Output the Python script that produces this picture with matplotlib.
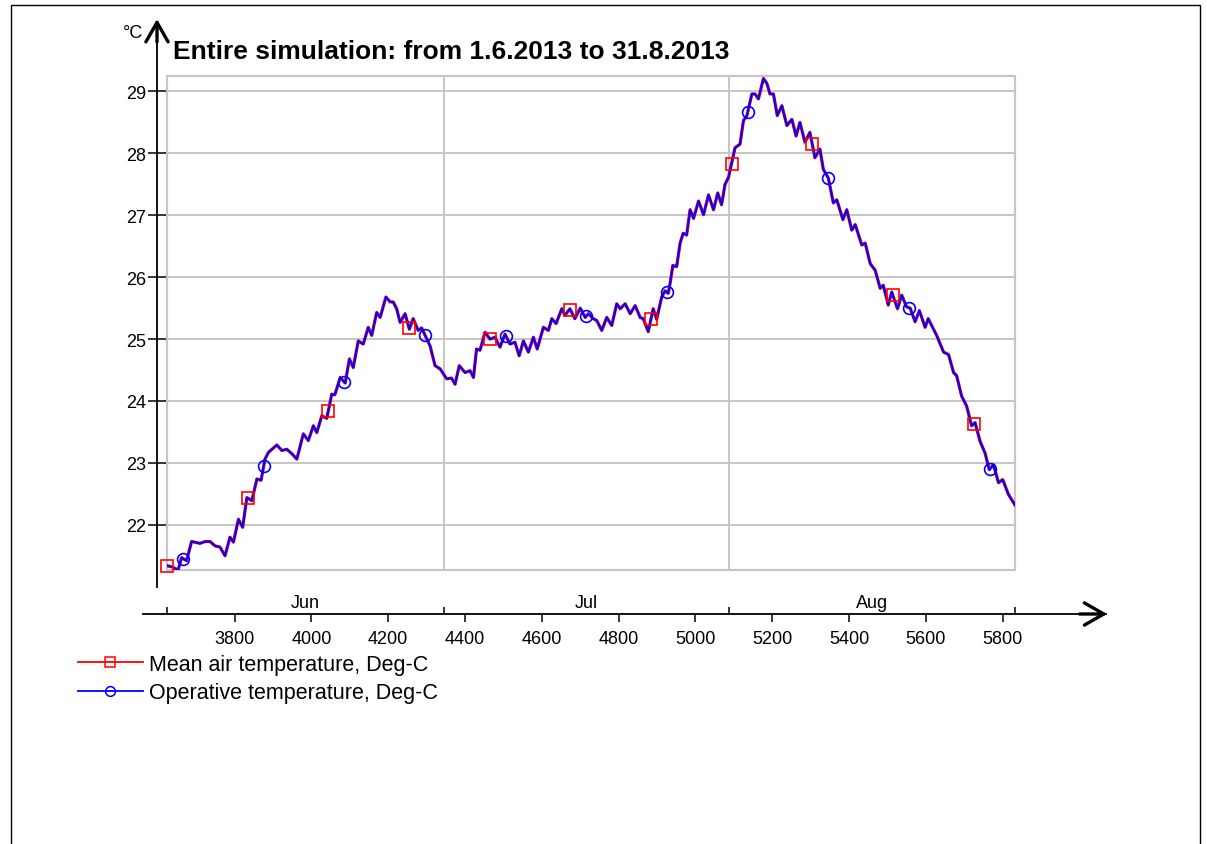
import numpy as np
import matplotlib
matplotlib.use("Agg")
import matplotlib.pyplot as plt
from matplotlib.patches import Rectangle
from matplotlib.lines import Line2D

plt.rcParams['font.family'] = ['Liberation Sans', 'DejaVu Sans']

# hour of year (1.6.2013 = hour 3624) and temperature
hours = [3624, 3637, 3653, 3662, 3675, 3688, 3710, 3723, 3736, 3749,
         3762, 3775, 3788, 3797, 3810, 3821, 3832, 3845, 3858, 3869,
         3879, 3888, 3910, 3923, 3936, 3949, 3962, 3979, 3992, 4005,
         4014, 4027, 4040, 4053, 4061, 4075, 4088, 4099, 4109, 4122,
         4135, 4148, 4157, 4170, 4179, 4194, 4205, 4213, 4222, 4231,
         4244, 4255, 4265, 4278, 4287, 4296, 4309, 4322, 4335, 4352,
         4365, 4374, 4385, 4400, 4413, 4422, 4430, 4439, 4452, 4465,
         4478, 4491, 4504, 4517, 4530, 4541, 4552, 4565, 4578, 4588,
         4604, 4617, 4626, 4637, 4652, 4660, 4673, 4686, 4700, 4713,
         4721, 4734, 4743, 4756, 4769, 4782, 4795, 4804, 4817, 4830,
         4843, 4856, 4864, 4877, 4890, 4899, 4912, 4921, 4929, 4934,
         4941, 4951, 4960, 4968, 4977, 4986, 4995, 5008, 5021, 5034,
         5047, 5058, 5068, 5077, 5086, 5103, 5116, 5125, 5134, 5147,
         5155, 5164, 5177, 5186, 5194, 5203, 5213, 5225, 5238, 5251,
         5262, 5272, 5285, 5298, 5311, 5324, 5333, 5346, 5359, 5368,
         5384, 5394, 5407, 5416, 5433, 5442, 5455, 5468, 5481, 5489,
         5502, 5511, 5526, 5537, 5550, 5559, 5572, 5583, 5598, 5606,
         5628, 5646, 5659, 5672, 5680, 5693, 5706, 5719, 5728, 5741,
         5754, 5765, 5776, 5789, 5800, 5815, 5832]

mean_air_temp = [21.34, 21.32, 21.27, 21.47, 21.42, 21.73, 21.70, 21.73, 21.73, 21.66,
                 21.64, 21.50, 21.80, 21.72, 22.09, 21.96, 22.44, 22.39, 22.74, 22.72,
                 23.06, 23.17, 23.29, 23.20, 23.22, 23.15, 23.06, 23.47, 23.36, 23.60,
                 23.49, 23.76, 23.72, 24.11, 24.10, 24.38, 24.29, 24.68, 24.54, 24.97,
                 24.92, 25.19, 25.06, 25.43, 25.35, 25.68, 25.60, 25.60, 25.49, 25.27,
                 25.41, 25.16, 25.33, 25.14, 25.18, 25.06, 24.89, 24.57, 24.52, 24.36,
                 24.37, 24.27, 24.57, 24.46, 24.49, 24.38, 24.84, 24.82, 25.11, 25.00,
                 25.03, 24.87, 25.08, 24.92, 24.95, 24.73, 24.97, 24.79, 25.03, 24.84,
                 25.19, 25.14, 25.33, 25.25, 25.49, 25.38, 25.49, 25.33, 25.50, 25.35,
                 25.41, 25.33, 25.30, 25.14, 25.35, 25.22, 25.57, 25.49, 25.57, 25.41,
                 25.54, 25.35, 25.33, 25.12, 25.49, 25.32, 25.68, 25.78, 25.74, 25.90,
                 26.19, 26.17, 26.55, 26.71, 26.68, 27.09, 26.95, 27.23, 27.01, 27.33,
                 27.09, 27.36, 27.17, 27.50, 27.61, 28.09, 28.15, 28.53, 28.61, 28.96,
                 28.96, 28.88, 29.21, 29.13, 28.96, 28.96, 28.61, 28.77, 28.45, 28.55,
                 28.28, 28.50, 28.18, 28.34, 27.93, 28.07, 27.74, 27.60, 27.20, 27.25,
                 26.93, 27.09, 26.76, 26.85, 26.52, 26.55, 26.22, 26.11, 25.82, 25.87,
                 25.55, 25.76, 25.49, 25.71, 25.52, 25.50, 25.28, 25.46, 25.19, 25.33,
                 25.06, 24.79, 24.75, 24.46, 24.41, 24.08, 23.92, 23.60, 23.65, 23.35,
                 23.16, 22.89, 22.97, 22.68, 22.73, 22.49, 22.32]
# the two curves lie on top of each other at this scale
operative_temp = mean_air_temp

month_edges = [3624, 4344, 5088, 5832]
month_names = ['Jun', 'Jul', 'Aug']
x_ticks = list(range(3800, 5801, 200))
y_ticks = list(range(22, 30))

title = 'Entire simulation: from 1.6.2013 to 31.8.2013'
labels = ['Mean air temperature, Deg-C', 'Operative temperature, Deg-C']

W, H = 1207, 845
GRID = '#c6c6c6'

fig = plt.figure(figsize=(W / 100, H / 100), dpi=100)
ax = fig.add_axes([167 / W, 1 - 571 / H, 848 / W, 494 / H])
ax.set_xlim(month_edges[0], month_edges[-1])
ax.set_ylim(21.27, 29.25)

for y in y_ticks:
    ax.axhline(y, color=GRID, lw=1.4, zorder=1)
for x in month_edges[1:-1]:
    ax.axvline(x, color=GRID, lw=1.4, zorder=1)
ax.add_patch(Rectangle((0, 0), 1, 1, transform=ax.transAxes, fill=False,
                       ec=GRID, lw=1.6, clip_on=False, zorder=1))

ax.plot(hours, mean_air_temp, color='red', lw=2.3, zorder=3)
ax.plot(hours, operative_temp, color='blue', lw=1.5, zorder=4)

# markers every 210 h, offset between the two series
red_mk = np.arange(month_edges[0], month_edges[-1], 210)
blue_mk = np.arange(month_edges[0] + 42, month_edges[-1], 210)
ax.plot(red_mk, np.interp(red_mk, hours, mean_air_temp), ls='none',
        marker='s', ms=8.5, mfc='none', mec='red', mew=1.2, zorder=5, clip_on=False)
ax.plot(blue_mk, np.interp(blue_mk, hours, operative_temp), ls='none',
        marker='o', ms=8.5, mfc='none', mec='blue', mew=1.2, zorder=5, clip_on=False)

# black arrow axes drawn apart from the grey frame
for side in ['top', 'right']:
    ax.spines[side].set_visible(False)
ax.spines['left'].set_position(('outward', 7.2))
ax.spines['bottom'].set_position(('outward', 31.7))
for side in ['left', 'bottom']:
    ax.spines[side].set_color('black')
    ax.spines[side].set_linewidth(1.3)
ax.spines['left'].set_bounds(21.0, 30.1)
ax.spines['bottom'].set_bounds(3562, 6070)

ax.set_yticks(y_ticks)
ax.set_xticks(x_ticks)
ax.set_xticks(month_edges, minor=True)
ax.tick_params(axis='y', direction='inout', length=13, width=1.1, pad=1.5,
               labelsize=13)
ax.tick_params(axis='x', which='major', direction='out', length=6, width=1.1,
               pad=5.5, labelsize=13)
ax.tick_params(axis='x', which='minor', direction='in', length=5, width=1.1)

for name, a, b in zip(month_names, month_edges[:-1], month_edges[1:]):
    ax.text((a + b) / 2, -33 / 494, name, transform=ax.get_xaxis_transform(),
            ha='center', va='center', fontsize=13)

arrow = dict(arrowstyle='->,head_length=1.4,head_width=0.8', lw=2.4,
             color='black', shrinkA=0, shrinkB=0)
ax.annotate('', xy=(6072, -44 / 494), xytext=(6000, -44 / 494),
            xycoords=ax.get_xaxis_transform(), arrowprops=arrow,
            annotation_clip=False)
ax.annotate('', xy=(-10 / 848, 30.17), xytext=(-10 / 848, 29.8),
            xycoords=ax.get_yaxis_transform(), arrowprops=arrow,
            annotation_clip=False)

fig.text(143 / W, 1 - 33 / H, '°C', ha='right', va='center', fontsize=13)
fig.text(173 / W, 1 - 52 / H, title, ha='left', va='center', fontsize=19,
         weight='bold')

handles = [Line2D([], [], color='red', lw=1.3, marker='s', ms=7, mfc='none',
                  mew=1.1),
           Line2D([], [], color='blue', lw=1.3, marker='o', ms=7, mfc='none',
                  mew=1.1)]
fig.legend(handles, labels, loc='upper left', bbox_to_anchor=(78 / W, 1 - 655 / H),
           frameon=False, fontsize=15.5, handlelength=3.0, handletextpad=0.3,
           borderpad=0, borderaxespad=0, labelspacing=0.34, numpoints=1)

fig.add_artist(Rectangle((11 / W, -0.01), 1189 / W, (H - 5.5) / H + 0.01,
                         transform=fig.transFigure, fill=False, ec='black', lw=1))

fig.savefig('out.png', dpi=100)
